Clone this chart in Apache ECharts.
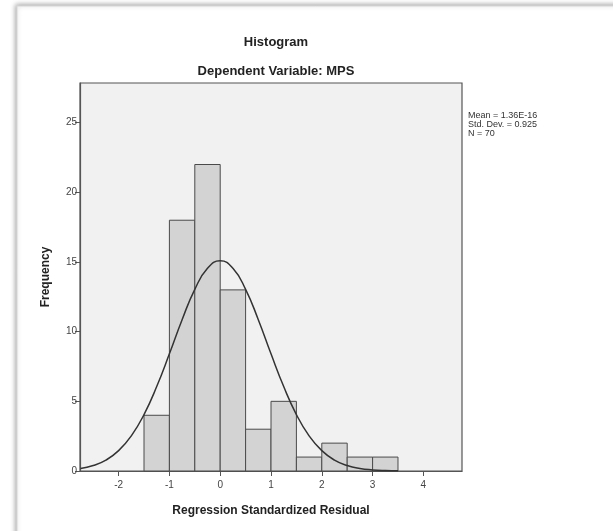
<!DOCTYPE html>
<html>
<head>
<meta charset="utf-8">
<script src="https://cdn.jsdelivr.net/npm/echarts@6/dist/echarts.min.js"></script>
<style>
html,body{margin:0;padding:0;background:#fff;}
#chart{width:613px;height:531px;}
</style>
</head>
<body>
<div id="chart"></div>
<script>
// ---- data ----
const binStarts = [-1.5, -1, -0.5, 0, 0.5, 1, 1.5, 2, 2.5, 3];
const binEnds   = [-1, -0.5, 0, 0.5, 1, 1.5, 2, 2.5, 3, 3.5];
const counts    = [4, 18, 22, 13, 3, 5, 1, 2, 1, 1];
const curveX = [-2.75, -2.5, -2.25, -2, -1.75, -1.5, -1.25, -1, -0.75, -0.5, -0.25, 0, 0.25, 0.5, 0.75, 1, 1.25, 1.5, 1.75, 2, 2.25, 2.5, 2.75, 3, 3.25, 3.5];
const curveY = [0.18, 0.39, 0.78, 1.46, 2.52, 4.05, 6.06, 8.41, 10.86, 13.04, 14.55, 15.09, 14.55, 13.04, 10.86, 8.41, 6.06, 4.05, 2.52, 1.46, 0.78, 0.39, 0.18, 0.08, 0.03, 0.01];
const xTicks = [-2, -1, 0, 1, 2, 3, 4];
const yTicks = [0, 5, 10, 15, 20, 25];
const titleText = 'Histogram';
const subtitleText = 'Dependent Variable: MPS';
const statsLines = ['Mean = 1.36E-16', 'Std. Dev. = 0.925', 'N = 70'];
const xAxisName = 'Regression Standardized Residual';
const yAxisName = 'Frequency';

const barData = binStarts.map((s, i) => [s, binEnds[i], counts[i]]);
const curveData = curveX.map((x, i) => [x, curveY[i]]);

const chart = echarts.init(document.getElementById('chart'), null, {renderer: 'canvas'});
const FONT = '"Liberation Sans", Arial, sans-serif';

chart.setOption({
  animation: false,
  backgroundColor: '#ffffff',
  graphic: [
    {
      type: 'rect', z: -10, silent: true,
      shape: {x: 17, y: 6, width: 620, height: 540},
      style: {fill: '#ffffff', stroke: '#d8d8d8', lineWidth: 1,
              shadowBlur: 5, shadowColor: 'rgba(0,0,0,0.35)', shadowOffsetX: -1, shadowOffsetY: -1}
    },
    {
      type: 'text', left: 468, top: 111, z: 10,
      style: {text: statsLines.join('\n'), font: '9px ' + FONT, fill: '#333', lineHeight: 9}
    }
  ],
  title: [
    {text: titleText, left: 271, top: 31, textAlign: 'center',
     textStyle: {fontFamily: FONT, fontSize: 13, fontWeight: 'bold', color: '#222'}},
    {text: subtitleText, left: 271, top: 60, textAlign: 'center',
     textStyle: {fontFamily: FONT, fontSize: 13, fontWeight: 'bold', color: '#222'}}
  ],
  grid: {left: 80, top: 83, right: 151, bottom: 60, show: true,
         backgroundColor: '#f1f1f1', borderColor: '#555', borderWidth: 1.2},
  xAxis: {
    type: 'value', min: -2.76, max: 4.76,
    name: xAxisName, nameLocation: 'middle', nameGap: 34,
    nameTextStyle: {fontFamily: FONT, fontSize: 12, fontWeight: 'bold', color: '#222'},
    axisLine: {show: true, onZero: false, lineStyle: {color: '#555', width: 1.2}},
    axisTick: {show: true, length: 5, customValues: xTicks, lineStyle: {color: '#555'}},
    axisLabel: {customValues: xTicks, fontFamily: FONT, fontSize: 10, color: '#444', margin: 9},
    splitLine: {show: false}
  },
  yAxis: {
    type: 'value', min: 0, max: 27.85,
    name: yAxisName, nameLocation: 'middle', nameGap: 28, nameRotate: 90,
    nameTextStyle: {fontFamily: FONT, fontSize: 12, fontWeight: 'bold', color: '#222'},
    axisLine: {show: true, onZero: false, lineStyle: {color: '#555', width: 1.2}},
    axisTick: {show: true, length: 5, customValues: yTicks, lineStyle: {color: '#555'}},
    axisLabel: {customValues: yTicks, fontFamily: FONT, fontSize: 10, color: '#444', margin: 3},
    splitLine: {show: false}
  },
  series: [
    {
      type: 'custom',
      data: barData,
      encode: {x: [0, 1], y: 2},
      renderItem: function (params, api) {
        const p0 = api.coord([api.value(0), 0]);
        const p1 = api.coord([api.value(1), api.value(2)]);
        return {
          type: 'rect',
          shape: {x: p0[0], y: p1[1], width: p1[0] - p0[0], height: p0[1] - p1[1]},
          style: {fill: '#d3d3d3', stroke: '#4a4a4a', lineWidth: 1}
        };
      },
      z: 2
    },
    {
      type: 'line',
      data: curveData,
      smooth: true,
      showSymbol: false,
      lineStyle: {color: '#333', width: 1.5},
      z: 3
    }
  ]
});
</script>
</body>
</html>
